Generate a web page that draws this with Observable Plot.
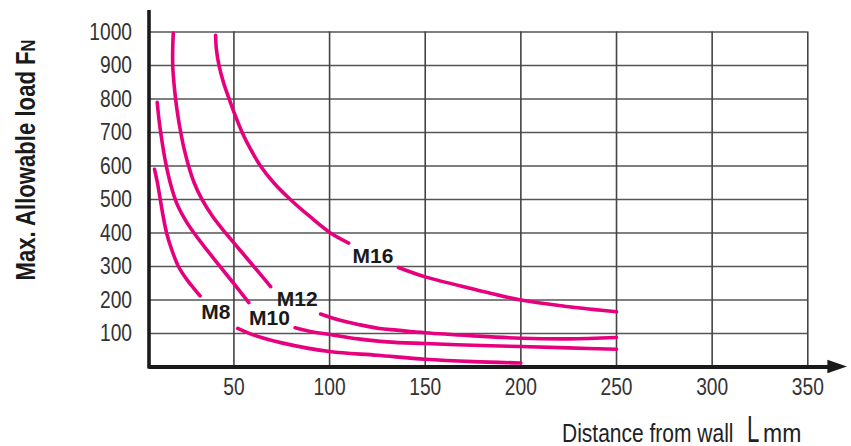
<!DOCTYPE html>
<html><head><meta charset="utf-8">
<script src="https://cdn.jsdelivr.net/npm/d3@7"></script>
<script src="https://cdn.jsdelivr.net/npm/@observablehq/plot@0.6"></script>
<style>body{margin:0;background:#fff}</style>
</head><body><div id="chart"></div>
<script>
const xTicks = [50, 100, 150, 200, 250, 300, 350];
const yTicks = [100, 200, 300, 400, 500, 600, 700, 800, 900, 1000];

// each curve is split in two parts by its label: [distance, load]
const m8a = [[8.5,590],[10,550],[11.5,500],[13,450],[14.8,400],[17.5,350],[21,300],[25.5,260],[29,235],[32.3,212]];
const m8b = [[52,115],[60,96],[75,72],[100,46],[125,35],[150,23],[175,16],[200,12]];
const m10a = [[9.9,790],[11,730],[12.5,670],[14.3,610],[16.7,550],[20,490],[24.5,440],[30,393],[36.5,345],[43,298],[50.5,245],[57.8,192]];
const m10b = [[82,117],[90,106],[100,97],[115,84],[130,75],[150,70],[175,65],[200,61],[225,57],[250,53]];
const m12a = [[18.3,997],[18,950],[18,900],[18.6,850],[19.5,800],[20.7,750],[22.2,700],[24,650],[26.3,600],[29.2,550],[33.3,500],[38.8,450],[45.6,400],[53,350],[60.4,300],[69.2,240]];
const m12b = [[95.3,158],[105,140],[115,127],[126,115],[135,110],[150,102],[175,93],[200,86],[225,84],[250,88]];
const m16a = [[40.4,990],[40.8,950],[42.2,900],[44.5,850],[47.5,800],[50.7,750],[54.3,700],[58.7,650],[63.9,600],[70.8,550],[79.5,500],[89.5,450],[100.5,400],[110,370]];
const m16b = [[136,297],[150,269],[175,233],[200,200],[225,180],[250,165]];

const labelNames = ["M8", "M10", "M12", "M16"];
const labelX = [40.5, 68.6, 83.1, 122.7];
const labelY = [163, 145, 201, 331];

const segs = {m8a, m8b, m10a, m10b, m12a, m12b, m16a, m16b};
const lineData = Object.entries(segs).flatMap(([id, pts]) => pts.map(([x, y]) => ({id, x, y})));
const labels = labelNames.map((name, i) => ({name, x: labelX[i], y: labelY[i]}));

const X0 = 5.6, XMAX = 350, YTOP = 1064;
const tickFont = "'Liberation Sans', Arial, sans-serif";
const pink = "#e6007e";

function arrowHead(index, scales) {
  const g = d3.create("svg:g");
  const y0 = scales.y(0);
  const xb = scales.x(360.5), xt = scales.x(370.7);
  g.append("path").attr("d", `M${xb},${y0 - 6.7}L${xt},${y0}L${xb},${y0 + 6.7}Z`).attr("fill", "#1a1a1a");
  return g.node();
}

function axisTitles() {
  const g = d3.create("svg:g");
  const yl = g.append("text")
    .attr("transform", "translate(35,160) rotate(-90) scale(0.82,1)")
    .attr("text-anchor", "middle")
    .attr("font-family", tickFont)
    .attr("font-weight", "bold")
    .attr("font-size", 27)
    .attr("fill", "#1a1a1a");
  yl.append("tspan").text("Max. Allowable load F");
  yl.append("tspan").attr("font-size", 20).text("N");
  const parts = [["Distance from wall", 562, 25, 0.84], ["L", 747, 37, 0.6], ["mm", 763, 25, 0.92]];
  for (const [s, x, fs, k] of parts) {
    g.append("text")
      .attr("transform", `translate(${x},441.5) scale(${k},1)`)
      .attr("text-anchor", "start")
      .attr("font-family", tickFont)
      .attr("font-size", fs)
      .attr("fill", "#222")
      .text(s);
  }
  return g.node();
}

const chart = Plot.plot({
  width: 851,
  height: 446,
  marginLeft: 148.5,
  marginRight: 43.7,
  marginTop: 10,
  marginBottom: 79.5,
  x: {domain: [X0, XMAX]},
  y: {domain: [0, YTOP]},
  style: {background: "#fff", fontFamily: tickFont},
  marks: [
    Plot.ruleY(yTicks, {x1: X0, x2: XMAX, stroke: "#555", strokeWidth: 1.6}),
    Plot.ruleX(xTicks, {y1: 0, y2: 1000, stroke: "#444", strokeWidth: 1.6}),
    Plot.axisX({ticks: xTicks, tickFormat: d => String(d), tickSize: 0, tickPadding: 11, fontSize: 24, fill: "#333", label: null}),
    Plot.axisY({ticks: yTicks, tickFormat: d => String(d), tickSize: 0, tickPadding: 17, fontSize: 24, fill: "#333", label: null}),
    Plot.line(lineData, {x: "x", y: "y", z: "id", stroke: pink, strokeWidth: 3.6, curve: "catmull-rom"}),
    Plot.text(labels, {x: "x", y: "y", text: "name", fontWeight: "bold", fontSize: 21, fill: "#1a1a1a",
      fontFamily: tickFont, lineAnchor: "middle"}),
    Plot.ruleY([0], {x1: X0, x2: 361, stroke: "#1a1a1a", strokeWidth: 4}),
    Plot.ruleX([X0], {y1: -6, y2: YTOP, stroke: "#1a1a1a", strokeWidth: 3.6}),
    arrowHead,
    axisTitles
  ]
});

// condense the tick labels horizontally around their anchors
for (const sel of ['[aria-label="x-axis tick label"] text', '[aria-label="y-axis tick label"] text']) {
  chart.querySelectorAll(sel).forEach(t => {
    const tr = t.getAttribute("transform");
    if (tr) t.setAttribute("transform", tr + " scale(0.8,1)");
  });
}
document.getElementById("chart").append(chart);
</script>
</body></html>
